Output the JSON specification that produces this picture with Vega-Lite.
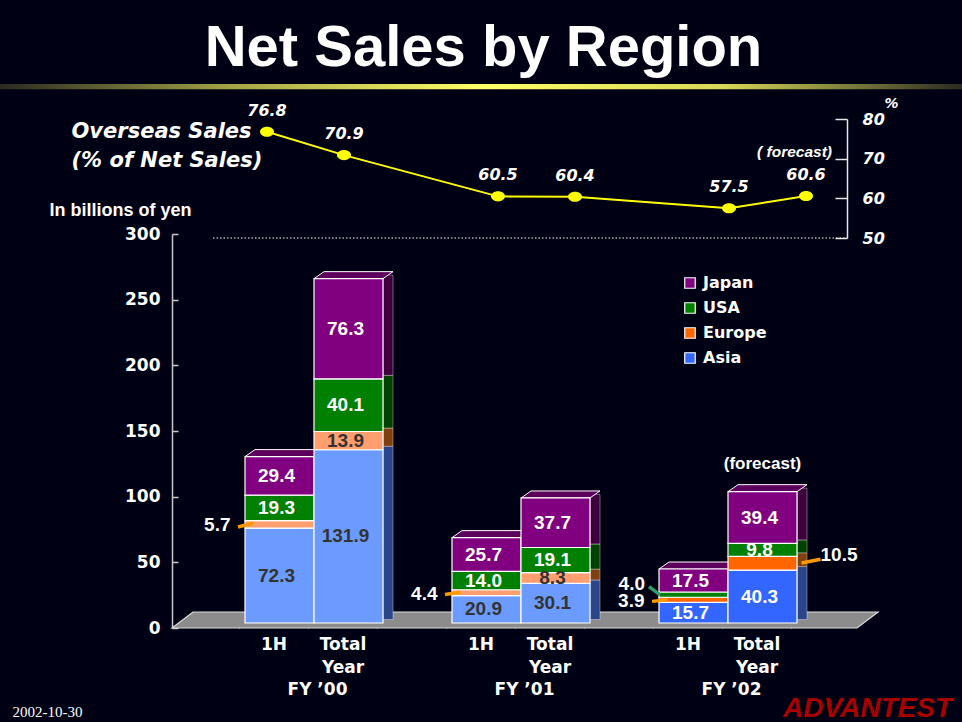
{
  "$schema": "https://vega.github.io/schema/vega-lite/v6.json",
  "width": 675,
  "height": 509,
  "autosize": {"type": "none"},
  "padding": {"left": 172, "top": 119, "right": 115, "bottom": 94},
  "background": "#000014",
  "title": {"text": "Net Sales by Region", "anchor": "middle", "frame": "group", "font": "Liberation Sans", "fontSize": 58, "fontWeight": "bold", "color": "white", "baseline": "alphabetic", "dx": -26, "dy": 70, "offset": 30},
  "config": {"view": {"stroke": null}, "axis": {"grid": false}},
  "datasets": {
    "sales": [
      {"fy": "FY ’00", "half": "1H", "period": "FY ’00 1H", "region": "Asia", "rank": 1, "value": 72.3},
      {"fy": "FY ’00", "half": "1H", "period": "FY ’00 1H", "region": "Europe", "rank": 2, "value": 5.7},
      {"fy": "FY ’00", "half": "1H", "period": "FY ’00 1H", "region": "USA", "rank": 3, "value": 19.3},
      {"fy": "FY ’00", "half": "1H", "period": "FY ’00 1H", "region": "Japan", "rank": 4, "value": 29.4},
      {"fy": "FY ’00", "half": "Total", "period": "FY ’00 Total", "region": "Asia", "rank": 1, "value": 131.9},
      {"fy": "FY ’00", "half": "Total", "period": "FY ’00 Total", "region": "Europe", "rank": 2, "value": 13.9},
      {"fy": "FY ’00", "half": "Total", "period": "FY ’00 Total", "region": "USA", "rank": 3, "value": 40.1},
      {"fy": "FY ’00", "half": "Total", "period": "FY ’00 Total", "region": "Japan", "rank": 4, "value": 76.3},
      {"fy": "FY ’01", "half": "1H", "period": "FY ’01 1H", "region": "Asia", "rank": 1, "value": 20.9},
      {"fy": "FY ’01", "half": "1H", "period": "FY ’01 1H", "region": "Europe", "rank": 2, "value": 4.4},
      {"fy": "FY ’01", "half": "1H", "period": "FY ’01 1H", "region": "USA", "rank": 3, "value": 14.0},
      {"fy": "FY ’01", "half": "1H", "period": "FY ’01 1H", "region": "Japan", "rank": 4, "value": 25.7},
      {"fy": "FY ’01", "half": "Total", "period": "FY ’01 Total", "region": "Asia", "rank": 1, "value": 30.1},
      {"fy": "FY ’01", "half": "Total", "period": "FY ’01 Total", "region": "Europe", "rank": 2, "value": 8.3},
      {"fy": "FY ’01", "half": "Total", "period": "FY ’01 Total", "region": "USA", "rank": 3, "value": 19.1},
      {"fy": "FY ’01", "half": "Total", "period": "FY ’01 Total", "region": "Japan", "rank": 4, "value": 37.7},
      {"fy": "FY ’02", "half": "1H", "period": "FY ’02 1H", "region": "Asia", "rank": 1, "value": 15.7},
      {"fy": "FY ’02", "half": "1H", "period": "FY ’02 1H", "region": "Europe", "rank": 2, "value": 3.9},
      {"fy": "FY ’02", "half": "1H", "period": "FY ’02 1H", "region": "USA", "rank": 3, "value": 4.0},
      {"fy": "FY ’02", "half": "1H", "period": "FY ’02 1H", "region": "Japan", "rank": 4, "value": 17.5},
      {"fy": "FY ’02", "half": "Total", "period": "FY ’02 Total", "region": "Asia", "rank": 1, "value": 40.3},
      {"fy": "FY ’02", "half": "Total", "period": "FY ’02 Total", "region": "Europe", "rank": 2, "value": 10.5},
      {"fy": "FY ’02", "half": "Total", "period": "FY ’02 Total", "region": "USA", "rank": 3, "value": 9.8},
      {"fy": "FY ’02", "half": "Total", "period": "FY ’02 Total", "region": "Japan", "rank": 4, "value": 39.4}
    ],
    "overseas": [
      {"period": "FY ’00 1H", "pct": 76.8},
      {"period": "FY ’00 Total", "pct": 70.9},
      {"period": "FY ’01 1H", "pct": 60.5},
      {"period": "FY ’01 Total", "pct": 60.4},
      {"period": "FY ’02 1H", "pct": 57.5},
      {"period": "FY ’02 Total", "pct": 60.6, "note": "( forecast)"}
    ]
  },
  "resolve": {"scale": {"x": "independent", "y": "independent"}, "axis": {"x": "independent", "y": "independent"}},
  "layer": [
    {
      "data": {"name": "sales"},
      "layer": [
        {
          "data": {"values": [{}]},
          "mark": {"type": "point", "shape": "M-1,0.0227L-0.9405,-0.0227L1,-0.0227L0.9405,0.0227Z", "size": 498436, "filled": true, "fill": "#8c8c8c", "stroke": "#dcdcdc", "strokeWidth": 1.2, "opacity": 1, "xOffset": -30.5, "yOffset": -8},
          "encoding": {
            "x": {"datum": "FY ’01 Total", "type": "nominal", "scale": {"domain": ["sp0","FY ’00 1H","FY ’00 Total","sp1","FY ’01 1H","FY ’01 Total","sp2","FY ’02 1H","FY ’02 Total","sp3"], "range": [4, 694], "paddingInner": 0, "paddingOuter": 0}},
            "y": {"datum": 0, "type": "quantitative", "scale": {"domain": [0, 300], "range": [509, 115], "nice": false, "zero": false}}
          }
        },
        {
          "mark": {"type": "bar", "width": 10, "xOffset": 39.5, "yOffset": -8.5, "y2Offset": -8.5, "stroke": "#ffffff", "strokeWidth": 0.6, "strokeOpacity": 0.6},
          "encoding": {
            "x": {"field": "period", "type": "nominal", "scale": {"domain": ["sp0","FY ’00 1H","FY ’00 Total","sp1","FY ’01 1H","FY ’01 Total","sp2","FY ’02 1H","FY ’02 Total","sp3"], "range": [4, 694], "paddingInner": 0, "paddingOuter": 0}},
            "y": {"field": "value", "type": "quantitative", "stack": "zero", "scale": {"domain": [0, 300], "range": [509, 115], "nice": false, "zero": false}},
            "detail": {"field": "region", "type": "nominal"},
            "fill": {"condition": [
              {"test": "datum.region=='Japan'", "value": "#3d003d"},
              {"test": "datum.region=='USA'", "value": "#004000"},
              {"test": "datum.region=='Europe'", "value": "#7f3f10"}
            ], "value": "#2a4588"},
            "order": {"field": "rank", "type": "quantitative"}
          }
        },
        {
          "mark": {"type": "point", "shape": "M-1,0.0886L-0.7468,-0.0886L1,-0.0886L0.7468,0.0886Z", "size": 6241, "filled": true, "fill": "#5c005c", "stroke": "#ffffff", "strokeWidth": 1, "xOffset": 5, "yOffset": -8.5},
          "encoding": {
            "x": {"field": "period", "type": "nominal", "scale": {"domain": ["sp0","FY ’00 1H","FY ’00 Total","sp1","FY ’01 1H","FY ’01 Total","sp2","FY ’02 1H","FY ’02 Total","sp3"], "range": [4, 694], "paddingInner": 0, "paddingOuter": 0}},
            "y": {"field": "value", "type": "quantitative", "stack": "zero", "scale": {"domain": [0, 300], "range": [509, 115], "nice": false, "zero": false}},
            "detail": {"field": "region", "type": "nominal"},
            "order": {"field": "rank", "type": "quantitative"},
            "opacity": {"condition": {"test": "datum.region=='Japan'", "value": 1}, "value": 0}
          }
        },
        {
          "mark": {"type": "bar", "yOffset": -5, "y2Offset": -5, "stroke": "#ffffff", "strokeWidth": 1.2},
          "encoding": {
            "x": {"field": "period", "type": "nominal", "scale": {"domain": ["sp0","FY ’00 1H","FY ’00 Total","sp1","FY ’01 1H","FY ’01 Total","sp2","FY ’02 1H","FY ’02 Total","sp3"], "range": [4, 694], "paddingInner": 0, "paddingOuter": 0},
              "axis": {"orient": "bottom", "values": ["FY ’00 1H","FY ’00 Total","sp1","FY ’01 1H","FY ’01 Total","sp2","FY ’02 1H","FY ’02 Total","sp3"], "bandPosition": 0, "tickOffset": -6, "tickSize": -6, "tickColor": "#dddddd", "tickWidth": 1, "domain": false, "labelExpr": "indexof(datum.value,'Total')>=0 ? ['Total','Year'] : (indexof(datum.value,'1H')>=0 ? '1H' : '')", "labelOffset": 0, "labelAlign": "center", "labelAngle": 0, "labelOverlap": false, "labelFont": "DejaVu Sans", "labelFontSize": 17, "labelFontWeight": "bold", "labelColor": "white", "labelPadding": 22, "labelLineHeight": 23, "title": "2002-10-30", "titleX": -160, "titleY": 88, "titleAlign": "left", "titleBaseline": "alphabetic", "titleAngle": 0, "titleFont": "Liberation Serif", "titleFontSize": 15, "titleFontWeight": "normal", "titleColor": "white"}},
            "y": {"field": "value", "type": "quantitative", "stack": "zero", "scale": {"domain": [0, 300], "range": [509, 115], "nice": false, "zero": false},
              "axis": {"values": [0,50,100,150,200,250,300], "tickSize": -6, "tickColor": "#c8c8c8", "tickWidth": 1.5, "domainColor": "#c8c8c8", "domainWidth": 1.5, "labelFont": "DejaVu Sans", "labelFontSize": 17, "labelFontWeight": "bold", "labelColor": "white", "labelPadding": 18, "title": "In billions of yen", "titleAngle": 0, "titleX": -52, "titleY": 91, "titleAlign": "center", "titleBaseline": "middle", "titleFont": "Liberation Sans", "titleFontSize": 18, "titleFontWeight": "bold", "titleColor": "white"}},
            "color": {"field": "region", "type": "nominal", "scale": {"domain": ["Japan","USA","Europe","Asia"], "range": ["#800080","#008000","#ff6600","#3366ff"]},
              "legend": {"title": null, "orient": "none", "legendX": 510, "legendY": 156, "direction": "vertical", "symbolType": "square", "symbolSize": 110, "symbolStrokeColor": "white", "symbolStrokeWidth": 1.2, "symbolOpacity": 1, "labelFont": "DejaVu Sans", "labelFontSize": 16, "labelFontWeight": "bold", "labelColor": "white", "labelOffset": 5, "rowPadding": 9, "padding": 0},
              "condition": [
                {"test": "datum.fy!='FY ’02' && datum.region=='Asia'", "value": "#6b9bff"},
                {"test": "datum.fy!='FY ’02' && datum.region=='Europe'", "value": "#ff9e6e"}
              ]},
            "order": {"field": "rank", "type": "quantitative"}
          }
        },
        {
          "transform": [{"stack": "value", "groupby": ["period"], "sort": [{"field": "rank", "order": "ascending"}], "as": ["v0", "v1"]}, {"filter": "datum.region=='Europe' && datum.half=='1H'"}],
          "mark": {"type": "rule", "color": "#ff9900", "strokeWidth": 3.5, "xOffset": -41.5, "x2Offset": -26, "yOffset": -6, "y2Offset": -2.5},
          "encoding": {
            "x": {"field": "period", "type": "nominal", "scale": {"domain": ["sp0","FY ’00 1H","FY ’00 Total","sp1","FY ’01 1H","FY ’01 Total","sp2","FY ’02 1H","FY ’02 Total","sp3"], "range": [4, 694], "paddingInner": 0, "paddingOuter": 0}},
            "x2": {"field": "period"},
            "y": {"field": "v0", "type": "quantitative", "scale": {"domain": [0, 300], "range": [509, 115], "nice": false, "zero": false}},
            "y2": {"field": "v1"}
          }
        },
        {
          "transform": [{"stack": "value", "groupby": ["period"], "sort": [{"field": "rank", "order": "ascending"}], "as": ["v0", "v1"]}, {"filter": "datum.region=='Europe' && datum.fy=='FY ’02' && datum.half=='Total'"}],
          "mark": {"type": "rule", "color": "#ff9900", "strokeWidth": 3.5, "xOffset": 39, "x2Offset": 58, "yOffset": -12, "y2Offset": -2},
          "encoding": {
            "x": {"field": "period", "type": "nominal", "scale": {"domain": ["sp0","FY ’00 1H","FY ’00 Total","sp1","FY ’01 1H","FY ’01 Total","sp2","FY ’02 1H","FY ’02 Total","sp3"], "range": [4, 694], "paddingInner": 0, "paddingOuter": 0}},
            "x2": {"field": "period"},
            "y": {"field": "v0", "type": "quantitative", "scale": {"domain": [0, 300], "range": [509, 115], "nice": false, "zero": false}},
            "y2": {"field": "v1"}
          }
        },
        {
          "transform": [{"stack": "value", "groupby": ["period"], "sort": [{"field": "rank", "order": "ascending"}], "as": ["v0", "v1"]}, {"filter": "datum.region=='USA' && datum.fy=='FY ’02' && datum.half=='1H'"}],
          "mark": {"type": "rule", "color": "#2e9e6a", "strokeWidth": 3.5, "xOffset": -44.5, "x2Offset": -33.5, "yOffset": -10.3, "y2Offset": -7.3},
          "encoding": {
            "x": {"field": "period", "type": "nominal", "scale": {"domain": ["sp0","FY ’00 1H","FY ’00 Total","sp1","FY ’01 1H","FY ’01 Total","sp2","FY ’02 1H","FY ’02 Total","sp3"], "range": [4, 694], "paddingInner": 0, "paddingOuter": 0}},
            "x2": {"field": "period"},
            "y": {"field": "v1", "type": "quantitative", "scale": {"domain": [0, 300], "range": [509, 115], "nice": false, "zero": false}},
            "y2": {"field": "v0"}
          }
        },
        {
          "mark": {"type": "text", "font": "Liberation Sans", "fontSize": 19, "fontWeight": "bold", "baseline": "middle", "align": "center", "dx": -3, "dy": -5},
          "encoding": {
            "x": {"field": "period", "type": "nominal", "scale": {"domain": ["sp0","FY ’00 1H","FY ’00 Total","sp1","FY ’01 1H","FY ’01 Total","sp2","FY ’02 1H","FY ’02 Total","sp3"], "range": [4, 694], "paddingInner": 0, "paddingOuter": 0}},
            "y": {"field": "value", "type": "quantitative", "stack": "zero", "bandPosition": 0.5, "scale": {"domain": [0, 300], "range": [509, 115], "nice": false, "zero": false}},
            "detail": {"field": "region", "type": "nominal"},
            "order": {"field": "rank", "type": "quantitative"},
            "text": {"condition": {"test": "!((datum.region=='Europe' && datum.half=='1H') || (datum.region=='Europe' && datum.fy=='FY ’02' && datum.half=='Total') || (datum.region=='USA' && datum.fy=='FY ’02' && datum.half=='1H'))", "field": "value", "type": "quantitative", "format": ".1f"}, "value": ""},
            "color": {"condition": {"test": "datum.fy!='FY ’02' && (datum.region=='Asia' || datum.region=='Europe')", "value": "#333333"}, "value": "#ffffff"}
          }
        },
        {
          "mark": {"type": "text", "font": "Liberation Sans", "fontSize": 19, "fontWeight": "bold", "baseline": "middle", "align": "right", "dx": -49, "dy": -4, "color": "#ffffff"},
          "encoding": {
            "x": {"field": "period", "type": "nominal", "scale": {"domain": ["sp0","FY ’00 1H","FY ’00 Total","sp1","FY ’01 1H","FY ’01 Total","sp2","FY ’02 1H","FY ’02 Total","sp3"], "range": [4, 694], "paddingInner": 0, "paddingOuter": 0}},
            "y": {"field": "value", "type": "quantitative", "stack": "zero", "bandPosition": 0.5, "scale": {"domain": [0, 300], "range": [509, 115], "nice": false, "zero": false}},
            "detail": {"field": "region", "type": "nominal"},
            "order": {"field": "rank", "type": "quantitative"},
            "text": {"condition": {"test": "datum.region=='Europe' && datum.half=='1H'", "field": "value", "type": "quantitative", "format": ".1f"}, "value": ""}
          }
        },
        {
          "mark": {"type": "text", "font": "Liberation Sans", "fontSize": 19, "fontWeight": "bold", "baseline": "middle", "align": "right", "dx": -48.5, "dy": -15.6, "color": "#ffffff"},
          "encoding": {
            "x": {"field": "period", "type": "nominal", "scale": {"domain": ["sp0","FY ’00 1H","FY ’00 Total","sp1","FY ’01 1H","FY ’01 Total","sp2","FY ’02 1H","FY ’02 Total","sp3"], "range": [4, 694], "paddingInner": 0, "paddingOuter": 0}},
            "y": {"field": "value", "type": "quantitative", "stack": "zero", "bandPosition": 0.5, "scale": {"domain": [0, 300], "range": [509, 115], "nice": false, "zero": false}},
            "detail": {"field": "region", "type": "nominal"},
            "order": {"field": "rank", "type": "quantitative"},
            "text": {"condition": {"test": "datum.region=='USA' && datum.fy=='FY ’02' && datum.half=='1H'", "field": "value", "type": "quantitative", "format": ".1f"}, "value": ""}
          }
        },
        {
          "mark": {"type": "text", "font": "Liberation Sans", "fontSize": 19, "fontWeight": "bold", "baseline": "middle", "align": "left", "dx": 58, "dy": -13, "color": "#ffffff"},
          "encoding": {
            "x": {"field": "period", "type": "nominal", "scale": {"domain": ["sp0","FY ’00 1H","FY ’00 Total","sp1","FY ’01 1H","FY ’01 Total","sp2","FY ’02 1H","FY ’02 Total","sp3"], "range": [4, 694], "paddingInner": 0, "paddingOuter": 0}},
            "y": {"field": "value", "type": "quantitative", "stack": "zero", "bandPosition": 0.5, "scale": {"domain": [0, 300], "range": [509, 115], "nice": false, "zero": false}},
            "detail": {"field": "region", "type": "nominal"},
            "order": {"field": "rank", "type": "quantitative"},
            "text": {"condition": {"test": "datum.region=='Europe' && datum.fy=='FY ’02' && datum.half=='Total'", "field": "value", "type": "quantitative", "format": ".1f"}, "value": ""}
          }
        },
        {
          "mark": {"type": "text", "font": "Liberation Sans", "fontSize": 17, "fontWeight": "bold", "baseline": "middle", "align": "center", "dy": -33, "color": "#ffffff"},
          "encoding": {
            "x": {"field": "period", "type": "nominal", "scale": {"domain": ["sp0","FY ’00 1H","FY ’00 Total","sp1","FY ’01 1H","FY ’01 Total","sp2","FY ’02 1H","FY ’02 Total","sp3"], "range": [4, 694], "paddingInner": 0, "paddingOuter": 0}},
            "y": {"field": "value", "type": "quantitative", "stack": "zero", "scale": {"domain": [0, 300], "range": [509, 115], "nice": false, "zero": false}},
            "detail": {"field": "region", "type": "nominal"},
            "order": {"field": "rank", "type": "quantitative"},
            "text": {"condition": {"test": "datum.region=='Japan' && datum.fy=='FY ’02' && datum.half=='Total'", "value": "(forecast)"}, "value": ""}
          }
        },
        {
          "transform": [{"filter": "datum.region=='Japan' && datum.half=='1H'"}],
          "mark": {"type": "text", "font": "DejaVu Sans", "fontSize": 17, "fontWeight": "bold", "baseline": "alphabetic", "align": "center", "dx": 38, "dy": 67, "color": "#ffffff"},
          "encoding": {
            "x": {"field": "period", "type": "nominal", "scale": {"domain": ["sp0","FY ’00 1H","FY ’00 Total","sp1","FY ’01 1H","FY ’01 Total","sp2","FY ’02 1H","FY ’02 Total","sp3"], "range": [4, 694], "paddingInner": 0, "paddingOuter": 0}},
            "y": {"datum": 0, "type": "quantitative", "scale": {"domain": [0, 300], "range": [509, 115], "nice": false, "zero": false}},
            "text": {"field": "fy", "type": "nominal"}
          }
        },
        {
          "data": {"values": [{}]},
          "mark": {"type": "text", "text": "ADVANTEST", "font": "Liberation Sans", "fontSize": 28, "fontWeight": "bold", "fontStyle": "italic", "baseline": "alphabetic", "align": "left", "dx": 20.5, "dy": 89, "color": "#a80000"},
          "encoding": {
            "x": {"datum": "FY ’02 Total", "type": "nominal", "scale": {"domain": ["sp0","FY ’00 1H","FY ’00 Total","sp1","FY ’01 1H","FY ’01 Total","sp2","FY ’02 1H","FY ’02 Total","sp3"], "range": [4, 694], "paddingInner": 0, "paddingOuter": 0}},
            "y": {"datum": 0, "type": "quantitative", "scale": {"domain": [0, 300], "range": [509, 115], "nice": false, "zero": false}}
          }
        }
      ]
    },
    {
      "data": {"name": "overseas"},
      "layer": [
        {
          "data": {"values": [{}]},
          "mark": {"type": "bar", "xOffset": -267, "x2Offset": 156, "color": {"gradient": "linear", "x1": 0, "y1": 0, "x2": 1, "y2": 0, "stops": [{"offset": 0, "color": "#2a2a22"}, {"offset": 0.25, "color": "#a8a848"}, {"offset": 0.5, "color": "#ffff66"}, {"offset": 0.75, "color": "#d8d858"}, {"offset": 1, "color": "#2a2a22"}]}},
          "encoding": {
            "x": {"datum": "FY ’00 1H", "type": "nominal", "scale": {"type": "point", "domain": ["FY ’00 1H","FY ’00 Total","gap1","FY ’01 1H","FY ’01 Total","gap2","FY ’02 1H","FY ’02 Total"], "range": [95, 634], "padding": 0}},
            "x2": {"datum": "FY ’02 Total"},
            "y": {"datum": 88.8, "type": "quantitative", "scale": {"domain": [50, 80], "range": [119, 0], "nice": false, "zero": false}},
            "y2": {"datum": 87.5}
          }
        },
        {
          "data": {"values": [{}]},
          "mark": {"type": "rule", "color": "#ffffff", "strokeWidth": 1, "strokeDash": [1.5, 2], "xOffset": -54, "x2Offset": 41},
          "encoding": {
            "x": {"datum": "FY ’00 1H", "type": "nominal", "scale": {"type": "point", "domain": ["FY ’00 1H","FY ’00 Total","gap1","FY ’01 1H","FY ’01 Total","gap2","FY ’02 1H","FY ’02 Total"], "range": [95, 634], "padding": 0}},
            "x2": {"datum": "FY ’02 Total"},
            "y": {"datum": 50, "type": "quantitative", "scale": {"domain": [50, 80], "range": [119, 0], "nice": false, "zero": false}}
          }
        },
        {
          "mark": {"type": "line", "color": "#ffff00", "strokeWidth": 2},
          "encoding": {
            "x": {"field": "period", "type": "nominal", "sort": null, "scale": {"type": "point", "domain": ["FY ’00 1H","FY ’00 Total","gap1","FY ’01 1H","FY ’01 Total","gap2","FY ’02 1H","FY ’02 Total"], "range": [95, 634], "padding": 0},
              "axis": {"orient": "top", "domain": false, "ticks": false, "labels": false, "title": ["Overseas Sales", "(% of Net Sales)"], "titleX": -101, "titleY": 18, "titleAlign": "left", "titleBaseline": "alphabetic", "titleAngle": 0, "titleFont": "DejaVu Sans", "titleFontStyle": "italic", "titleFontWeight": "bold", "titleFontSize": 21, "titleColor": "white", "titleLineHeight": 29}},
            "y": {"field": "pct", "type": "quantitative", "scale": {"domain": [50, 80], "range": [119, 0], "nice": false, "zero": false},
              "axis": {"orient": "right", "values": [50, 60, 70, 80], "tickSize": -12, "tickColor": "#e6e6e6", "tickWidth": 1.5, "domainColor": "#e6e6e6", "domainWidth": 1.5, "labelFont": "DejaVu Sans", "labelFontStyle": "italic", "labelFontWeight": "bold", "labelFontSize": 16, "labelColor": "white", "labelPadding": 27, "title": "%", "titleAngle": 0, "titleX": 44, "titleY": -16, "titleAlign": "center", "titleBaseline": "middle", "titleFont": "DejaVu Sans", "titleFontStyle": "italic", "titleFontWeight": "bold", "titleFontSize": 14, "titleColor": "white"}}
          }
        },
        {
          "mark": {"type": "point", "shape": "M-1,0A1,0.72,0,1,1,1,0A1,0.72,0,1,1,-1,0Z", "size": 196, "filled": true, "color": "#ffff00", "opacity": 1},
          "encoding": {
            "x": {"field": "period", "type": "nominal", "scale": {"type": "point", "domain": ["FY ’00 1H","FY ’00 Total","gap1","FY ’01 1H","FY ’01 Total","gap2","FY ’02 1H","FY ’02 Total"], "range": [95, 634], "padding": 0}},
            "y": {"field": "pct", "type": "quantitative", "scale": {"domain": [50, 80], "range": [119, 0], "nice": false, "zero": false}}
          }
        },
        {
          "mark": {"type": "text", "font": "DejaVu Sans", "fontStyle": "italic", "fontWeight": "bold", "fontSize": 16, "baseline": "middle", "align": "center", "dy": -21, "color": "#ffffff"},
          "encoding": {
            "x": {"field": "period", "type": "nominal", "scale": {"type": "point", "domain": ["FY ’00 1H","FY ’00 Total","gap1","FY ’01 1H","FY ’01 Total","gap2","FY ’02 1H","FY ’02 Total"], "range": [95, 634], "padding": 0}},
            "y": {"field": "pct", "type": "quantitative", "scale": {"domain": [50, 80], "range": [119, 0], "nice": false, "zero": false}},
            "text": {"field": "pct", "type": "quantitative", "format": ".1f"}
          }
        },
        {
          "transform": [{"filter": "datum.note"}],
          "mark": {"type": "text", "font": "Liberation Sans", "fontStyle": "italic", "fontWeight": "bold", "fontSize": 15.5, "baseline": "middle", "align": "right", "dx": 26, "dy": -44, "color": "#ffffff"},
          "encoding": {
            "x": {"field": "period", "type": "nominal", "scale": {"type": "point", "domain": ["FY ’00 1H","FY ’00 Total","gap1","FY ’01 1H","FY ’01 Total","gap2","FY ’02 1H","FY ’02 Total"], "range": [95, 634], "padding": 0}},
            "y": {"field": "pct", "type": "quantitative", "scale": {"domain": [50, 80], "range": [119, 0], "nice": false, "zero": false}},
            "text": {"field": "note", "type": "nominal"}
          }
        }
      ]
    }
  ]
}
